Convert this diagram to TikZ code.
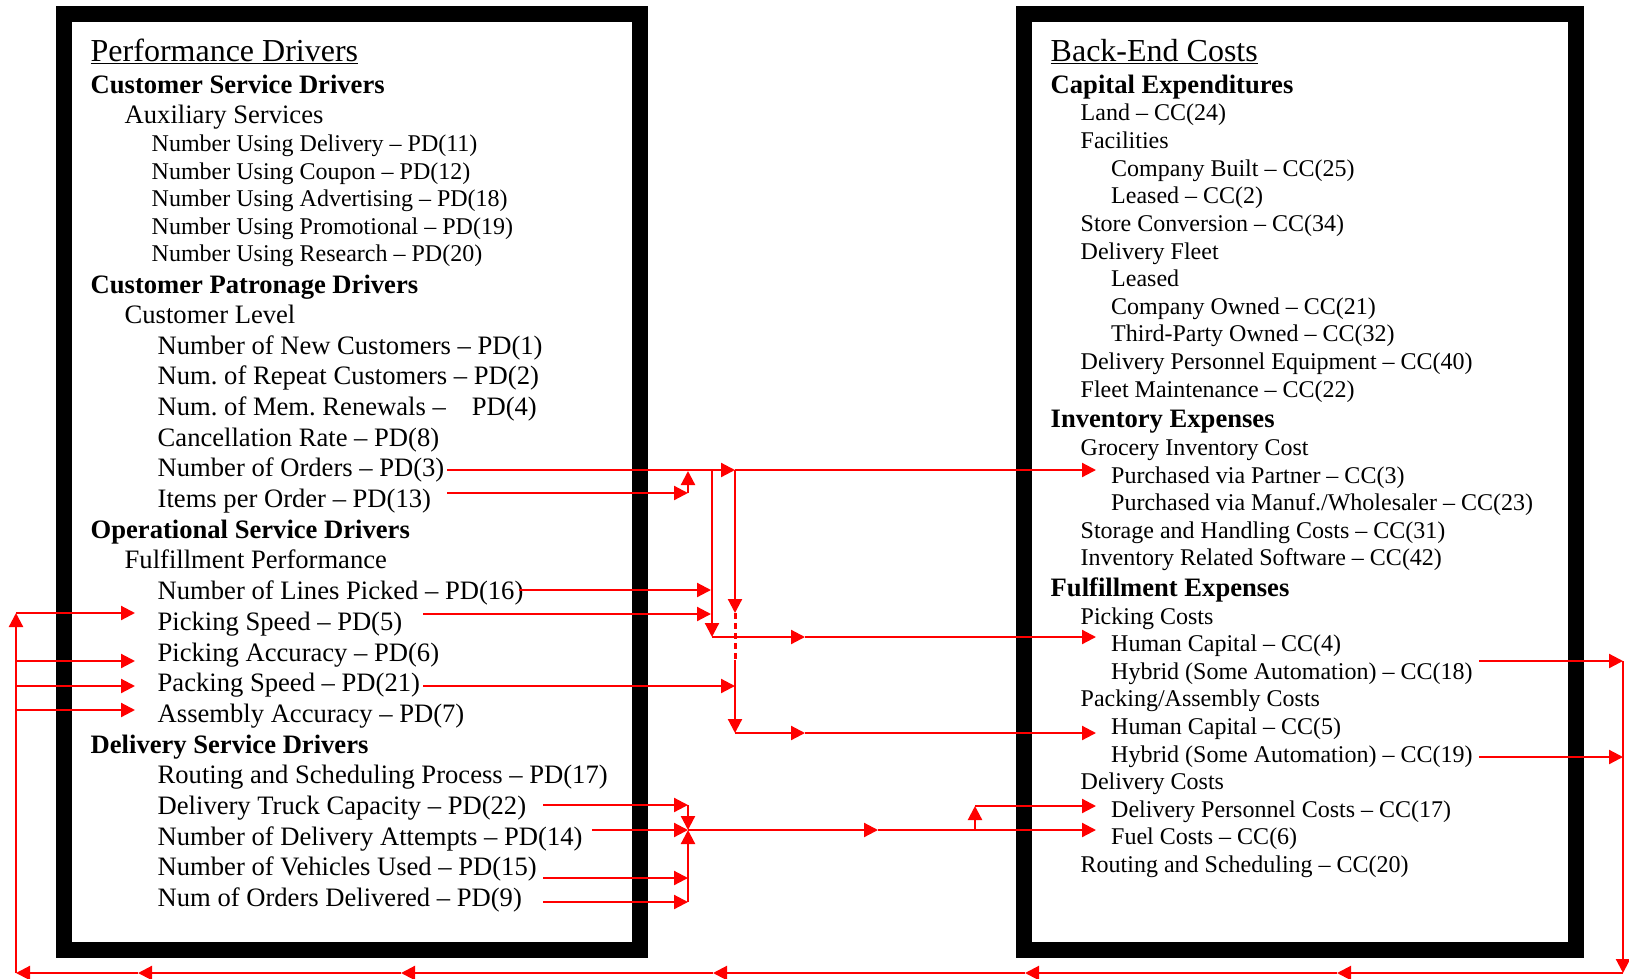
\documentclass[tikz,border=0pt]{standalone}
\usepackage{fontspec}
\setmainfont{Liberation Serif}
\usetikzlibrary{arrows.meta}
\frenchspacing
\begin{document}
\begin{tikzpicture}[x=1pt,y=-1pt,
  tsm/.style={anchor=base west, inner sep=0pt, font=\fontsize{24}{28}\selectfont},
  tmd/.style={anchor=base west, inner sep=0pt, font=\fontsize{26.6}{31}\selectfont},
  hb/.style={anchor=base west, inner sep=0pt, font=\fontsize{26.6}{31}\selectfont\bfseries},
  ttl/.style={anchor=base west, inner sep=0pt, font=\fontsize{32}{37}\selectfont},
  arr/.style={draw=red, fill=red, line width=2.2pt, -{Triangle[length=14pt,width=14pt]}},
  ln/.style={draw=red, line width=2.2pt},
  dotln/.style={draw=red, line width=3pt, dash pattern=on 6pt off 4pt},
  frame/.style={draw=black, line width=15.5pt, line join=miter}]
\useasboundingbox (0,0) rectangle (1629,979);
% frames
\draw[frame] (64,14) rectangle (640,950);
\draw[frame] (1024,14) rectangle (1576,950);
% ---------------- left texts
\node[ttl] (pdt) at (90.5,61.5) {\underline{Performance Drivers}};
\node[hb] (csd) at (90.5,93.5) {Customer Service Drivers};
\node[tmd] (aux) at (124.5,124) {Auxiliary Services};
\node[tsm] (pd11) at (151.5,151.5) {Number Using Delivery – PD(11)};
\node[tsm] (pd12) at (151.5,179) {Number Using Coupon – PD(12)};
\node[tsm] (pd18) at (151.5,206.5) {Number Using Advertising – PD(18)};
\node[tsm] (pd19) at (151.5,234) {Number Using Promotional – PD(19)};
\node[tsm] (pd20) at (151.5,261.5) {Number Using Research – PD(20)};
\node[hb] (cpd) at (90.5,293) {Customer Patronage Drivers};
\node[tmd] (cl) at (124.5,323.5) {Customer Level};
\node[tmd] (pd1) at (157.5,354) {Number of New Customers – PD(1)};
\node[tmd] (pd2) at (157.5,384.7) {Num. of Repeat Customers – PD(2)};
\node[tmd] (pd4) at (157.5,415.4) {Num. of Mem. Renewals –\hspace{26pt}PD(4)};
\node[tmd] (pd8) at (157.5,446.1) {Cancellation Rate – PD(8)};
\node[tmd] (pd3) at (157.5,476.8) {Number of Orders – PD(3)};
\node[tmd] (pd13) at (157.5,507.5) {Items per Order – PD(13)};
\node[hb] (osd) at (90.5,538.2) {Operational Service Drivers};
\node[tmd] (fp) at (124.5,568.9) {Fulfillment Performance};
\node[tmd] (pd16) at (157.5,599.6) {Number of Lines Picked – PD(16)};
\node[tmd] (pd5) at (157.5,630.3) {Picking Speed – PD(5)};
\node[tmd] (pd6) at (157.5,661) {Picking Accuracy – PD(6)};
\node[tmd] (pd21) at (157.5,691.7) {Packing Speed – PD(21)};
\node[tmd] (pd7) at (157.5,722.4) {Assembly Accuracy – PD(7)};
\node[hb] (dsd) at (90.5,753.1) {Delivery Service Drivers};
\node[tmd] (pd17) at (157.5,783.8) {Routing and Scheduling Process – PD(17)};
\node[tmd] (pd22) at (157.5,814.5) {Delivery Truck Capacity – PD(22)};
\node[tmd] (pd14) at (157.5,845.2) {Number of Delivery Attempts – PD(14)};
\node[tmd] (pd15) at (157.5,875.9) {Number of Vehicles Used – PD(15)};
\node[tmd] (pd9) at (157.5,906.6) {Num of Orders Delivered – PD(9)};
% ---------------- right texts
\node[ttl] (bec) at (1050.5,61.5) {\underline{Back-End Costs}};
\node[hb] (ce) at (1050.5,93.5) {Capital Expenditures};
\node[tsm] (cc24) at (1080.5,121) {Land – CC(24)};
\node[tsm] (fac) at (1080.5,148.6) {Facilities};
\node[tsm] (cc25) at (1111,176.2) {Company Built – CC(25)};
\node[tsm] (cc2) at (1111,203.8) {Leased – CC(2)};
\node[tsm] (cc34) at (1080.5,231.4) {Store Conversion – CC(34)};
\node[tsm] (dfl) at (1080.5,259) {Delivery Fleet};
\node[tsm] (lsd) at (1111,286.6) {Leased};
\node[tsm] (cc21) at (1111,314.2) {Company Owned – CC(21)};
\node[tsm] (cc32) at (1111,341.8) {Third-Party Owned – CC(32)};
\node[tsm] (cc40) at (1080.5,369.4) {Delivery Personnel Equipment – CC(40)};
\node[tsm] (cc22) at (1080.5,397) {Fleet Maintenance – CC(22)};
\node[hb] (ie) at (1050.5,427.5) {Inventory Expenses};
\node[tsm] (gic) at (1080.5,455.5) {Grocery Inventory Cost};
\node[tsm] (cc3) at (1111,483) {Purchased via Partner – CC(3)};
\node[tsm] (cc23) at (1111,510.6) {Purchased via Manuf./Wholesaler – CC(23)};
\node[tsm] (cc31) at (1080.5,538.2) {Storage and Handling Costs – CC(31)};
\node[tsm] (cc42) at (1080.5,565.8) {Inventory Related Software – CC(42)};
\node[hb] (fe) at (1050.5,596) {Fulfillment Expenses};
\node[tsm] (pkc) at (1080.5,624) {Picking Costs};
\node[tsm] (cc4) at (1111,651.6) {Human Capital – CC(4)};
\node[tsm] (cc18) at (1111,679.2) {Hybrid (Some Automation) – CC(18)};
\node[tsm] (pac) at (1080.5,706.8) {Packing/Assembly Costs};
\node[tsm] (cc5) at (1111,734.4) {Human Capital – CC(5)};
\node[tsm] (cc19) at (1111,762) {Hybrid (Some Automation) – CC(19)};
\node[tsm] (dc) at (1080.5,789.6) {Delivery Costs};
\node[tsm] (cc17) at (1111,817.2) {Delivery Personnel Costs – CC(17)};
\node[tsm] (cc6) at (1111,844.8) {Fuel Costs – CC(6)};
\node[tsm] (cc20) at (1080.5,872.4) {Routing and Scheduling – CC(20)};
% ---------------- connector coordinates
\coordinate (s3) at (447,470);
\coordinate (s13) at (447,493);
\coordinate (j13) at (688,493);
\coordinate (u13) at (688,471);
\coordinate (m3) at (735,470);
\coordinate (t3) at (1096,470);
\coordinate (v1top) at (712,470);
\coordinate (v1bot) at (712,637);
\coordinate (s16) at (519,590);
\coordinate (e16) at (711,590);
\coordinate (s5) at (423,614);
\coordinate (e5) at (711,614);
\coordinate (m4) at (805,637);
\coordinate (t4) at (1096,637);
\coordinate (d1) at (735,613);
\coordinate (d2) at (735,660);
\coordinate (v2bot) at (735,733);
\coordinate (s21) at (423,686);
\coordinate (e21) at (735,686);
\coordinate (m5) at (805,733);
\coordinate (t5) at (1096,733);
% delivery group
\coordinate (s22) at (543,805);
\coordinate (e22) at (688,805);
\coordinate (s14) at (592,830);
\coordinate (hub) at (688,830);
\coordinate (s15) at (543,878);
\coordinate (e15) at (688,878);
\coordinate (s9) at (543,902);
\coordinate (e9) at (688,902);
\coordinate (m6) at (878,830);
\coordinate (br) at (975,830);
\coordinate (brt) at (975,806);
\coordinate (t6) at (1096,830);
\coordinate (t17) at (1096,806);
% feedback loop
\coordinate (s18) at (1479,661);
\coordinate (e18) at (1623,661);
\coordinate (s19) at (1479,757);
\coordinate (e19) at (1623,757);
\coordinate (rb) at (1623,973);
\coordinate (b1) at (1337,973);
\coordinate (b2) at (1025,973);
\coordinate (b3) at (713,973);
\coordinate (b4) at (401,973);
\coordinate (b5) at (138,973);
\coordinate (lb) at (16,973);
\coordinate (lt) at (16,613);
\coordinate (l661) at (16,661);
\coordinate (l686) at (16,686);
\coordinate (l710) at (16,710);
\coordinate (f5) at (135,613);
\coordinate (f6) at (135,661);
\coordinate (f21) at (135,686);
\coordinate (f7) at (135,710);
% ---------------- connectors: order / picking / packing
\draw[arr] (s3) -- (m3);
\draw[arr] (m3) -- (t3);
\draw[arr] (s13) -- (j13);
\draw[arr] (j13) -- (u13);
\draw[arr] (v1top) -- (v1bot);
\draw[arr] (s16) -- (e16);
\draw[arr] (s5) -- (e5);
\draw[arr] (v1bot) -- (m4);
\draw[arr] (m4) -- (t4);
\draw[arr] (m3) -- (d1);
\draw[dotln] (d1) -- (d2);
\draw[arr] (d2) -- (v2bot);
\draw[arr] (s21) -- (e21);
\draw[arr] (v2bot) -- (m5);
\draw[arr] (m5) -- (t5);
% delivery group
\draw[arr] (s22) -- (e22);
\draw[arr] (e22) -- (hub);
\draw[arr] (s14) -- (hub);
\draw[arr] (s15) -- (e15);
\draw[arr] (s9) -- (e9);
\draw[arr] (e9) -- (hub);
\draw[arr] (hub) -- (m6);
\draw[arr] (m6) -- (t6);
\draw[arr] (br) -- (brt);
\draw[arr] (brt) -- (t17);
% feedback loop
\draw[arr] (s18) -- (e18);
\draw[arr] (s19) -- (e19);
\draw[arr] (e18) -- (rb);
\draw[arr] (rb) -- (b1);
\draw[arr] (b1) -- (b2);
\draw[arr] (b2) -- (b3);
\draw[arr] (b3) -- (b4);
\draw[arr] (b4) -- (b5);
\draw[arr] (b5) -- (lb);
\draw[arr] (lb) -- (lt);
\draw[arr] (lt) -- (f5);
\draw[arr] (l661) -- (f6);
\draw[arr] (l686) -- (f21);
\draw[arr] (l710) -- (f7);
\end{tikzpicture}
\end{document}
